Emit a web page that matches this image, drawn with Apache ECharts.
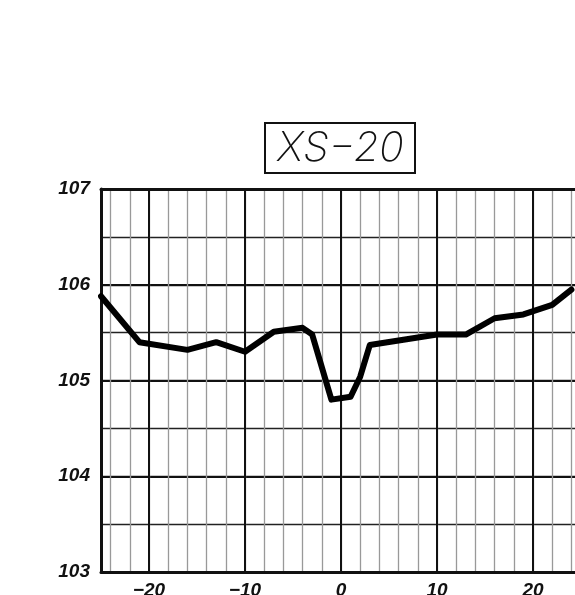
<!DOCTYPE html>
<html>
<head>
<meta charset="utf-8">
<script src="https://cdn.jsdelivr.net/npm/echarts@6/dist/echarts.min.js"></script>
<style>
html,body{margin:0;padding:0;background:#fff;overflow:hidden;}
#chart{width:575px;height:595px;}
</style>
</head>
<body>
<div id="chart"></div>
<script>
var titleText = 'XS\u221220';
var stations = [-25, -21, -16, -13, -10, -7, -4, -3, -1, 1, 2, 3, 10, 13, 16, 19, 22, 24];
var elevations = [105.88, 105.40, 105.32, 105.40, 105.30, 105.51, 105.55, 105.48, 104.80, 104.83, 105.04, 105.37, 105.48, 105.48, 105.65, 105.69, 105.79, 105.95];
var xMin = -25, xMax = 25;
var yMin = 103, yMax = 107;
var xLabelStep = 10;

var points = stations.map(function (s, i) { return [s, elevations[i]]; });
var labelFont = { fontFamily: 'Liberation Sans', fontStyle: 'italic', fontWeight: 'bold', fontSize: 19, color: '#111' };

var chart = echarts.init(document.getElementById('chart'), null, { renderer: 'canvas' });
chart.setOption({
  animation: false,
  backgroundColor: '#fff',
  title: {
    text: titleText,
    left: 265,
    top: 123,
    padding: [5, 12, 4, 12],
    borderColor: '#111',
    borderWidth: 2,
    textStyle: { fontFamily: 'Inter', fontStyle: 'italic', fontWeight: 250, fontSize: 41, letterSpacing: 1, color: '#111' }
  },
  grid: { left: 101, width: 480, top: 189, height: 383, containLabel: false, outerBoundsMode: 'none' },
  xAxis: [
    {
      type: 'value', min: xMin, max: xMax, interval: 1, position: 'bottom',
      axisLine: { show: true, onZero: false, lineStyle: { color: '#111', width: 3 } },
      axisTick: { show: false },
      axisLabel: Object.assign({
        margin: 9,
        formatter: function (v) {
          if (v % xLabelStep !== 0 || v === xMin || v === xMax) return '';
          return v < 0 ? '\u2212' + Math.abs(v) : String(v);
        }
      }, labelFont),
      splitLine: { show: true, lineStyle: { color: ['transparent', '#999'], width: 1.3 } }
    },
    {
      type: 'value', min: xMin, max: xMax, interval: 5, position: 'top',
      axisLine: { show: true, onZero: false, lineStyle: { color: '#111', width: 3 } },
      axisTick: { show: false },
      axisLabel: { show: false },
      splitLine: { show: true, lineStyle: { color: ['transparent', '#111'], width: 2 } }
    }
  ],
  yAxis: [
    {
      type: 'value', min: yMin, max: yMax, interval: 0.5, position: 'left',
      axisLine: { show: true, onZero: false, lineStyle: { color: '#111', width: 3 } },
      axisTick: { show: false },
      axisLabel: Object.assign({
        margin: 11,
        formatter: function (v) { return Number.isInteger(v) ? String(v) : ''; }
      }, labelFont),
      splitLine: { show: true, lineStyle: { color: '#222', width: 1.3 } }
    },
    {
      type: 'value', min: yMin, max: yMax, interval: 1, position: 'left',
      axisLine: { show: false },
      axisTick: { show: false },
      axisLabel: { show: false },
      splitLine: { show: true, lineStyle: { color: '#111', width: 2.2 } }
    }
  ],
  series: [{
    type: 'line',
    xAxisIndex: 0,
    yAxisIndex: 0,
    data: points,
    showSymbol: false,
    symbol: 'none',
    lineStyle: { color: '#000', width: 6, join: 'round', cap: 'round' },
    z: 10
  }]
});
</script>
</body>
</html>
